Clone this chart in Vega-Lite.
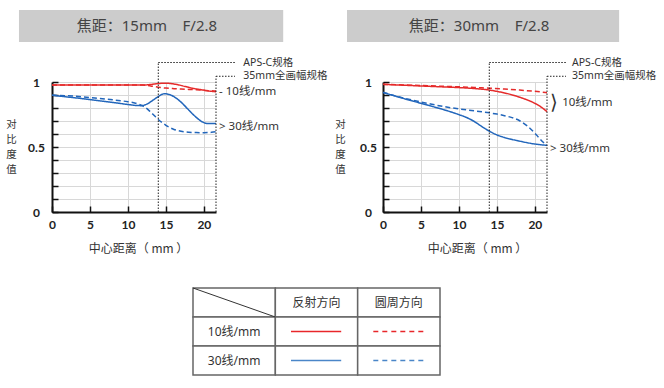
{
  "$schema": "https://vega.github.io/schema/vega-lite/v6.json",
  "padding": {"left": 5, "top": 9, "right": 0, "bottom": 0},
  "background": "white",
  "config": {
    "view": {"stroke": null},
    "font": "Noto Sans, Noto Sans CJK SC",
    "axis": {
      "domainColor": "#111", "domainWidth": 2, "grid": true,
      "tickColor": "#111", "tickWidth": 1.5, "tickSize": -6,
      "gridColor": "#d8d8d8", "gridWidth": 1,
      "labelFont": "Lato", "labelFontWeight": "bold", "labelFontSize": 12, "labelColor": "#222",
      "labelOverlap": false, "labelFlush": false,
      "titleFont": "Noto Sans CJK SC", "titleFontWeight": "normal", "titleFontSize": 12, "titleColor": "#333"
    },
    "text": {"font": "Noto Sans, Noto Sans CJK SC"}
  },
  "resolve": {"scale": {"color": "independent", "strokeDash": "independent"}},
  "datasets": {
    "mtf15": [
      {"d":0,"mtf":0.977,"freq":"10线/mm","dir":"反射方向"},
      {"d":4,"mtf":0.977,"freq":"10线/mm","dir":"反射方向"},
      {"d":8,"mtf":0.977,"freq":"10线/mm","dir":"反射方向"},
      {"d":12,"mtf":0.977,"freq":"10线/mm","dir":"反射方向"},
      {"d":13,"mtf":0.981,"freq":"10线/mm","dir":"反射方向"},
      {"d":14,"mtf":0.988,"freq":"10线/mm","dir":"反射方向"},
      {"d":14.8,"mtf":0.991,"freq":"10线/mm","dir":"反射方向"},
      {"d":15.5,"mtf":0.989,"freq":"10线/mm","dir":"反射方向"},
      {"d":16.5,"mtf":0.98,"freq":"10线/mm","dir":"反射方向"},
      {"d":17.5,"mtf":0.966,"freq":"10线/mm","dir":"反射方向"},
      {"d":18.5,"mtf":0.952,"freq":"10线/mm","dir":"反射方向"},
      {"d":19.5,"mtf":0.942,"freq":"10线/mm","dir":"反射方向"},
      {"d":20.5,"mtf":0.932,"freq":"10线/mm","dir":"反射方向"},
      {"d":21.6,"mtf":0.925,"freq":"10线/mm","dir":"反射方向"},
      {"d":0,"mtf":0.977,"freq":"10线/mm","dir":"圆周方向"},
      {"d":4,"mtf":0.977,"freq":"10线/mm","dir":"圆周方向"},
      {"d":8,"mtf":0.977,"freq":"10线/mm","dir":"圆周方向"},
      {"d":12,"mtf":0.976,"freq":"10线/mm","dir":"圆周方向"},
      {"d":13,"mtf":0.97,"freq":"10线/mm","dir":"圆周方向"},
      {"d":14,"mtf":0.96,"freq":"10线/mm","dir":"圆周方向"},
      {"d":15,"mtf":0.953,"freq":"10线/mm","dir":"圆周方向"},
      {"d":16,"mtf":0.949,"freq":"10线/mm","dir":"圆周方向"},
      {"d":17,"mtf":0.946,"freq":"10线/mm","dir":"圆周方向"},
      {"d":18,"mtf":0.943,"freq":"10线/mm","dir":"圆周方向"},
      {"d":19,"mtf":0.94,"freq":"10线/mm","dir":"圆周方向"},
      {"d":20,"mtf":0.936,"freq":"10线/mm","dir":"圆周方向"},
      {"d":21,"mtf":0.932,"freq":"10线/mm","dir":"圆周方向"},
      {"d":21.6,"mtf":0.93,"freq":"10线/mm","dir":"圆周方向"},
      {"d":0,"mtf":0.898,"freq":"30线/mm","dir":"反射方向"},
      {"d":2,"mtf":0.885,"freq":"30线/mm","dir":"反射方向"},
      {"d":4,"mtf":0.872,"freq":"30线/mm","dir":"反射方向"},
      {"d":6,"mtf":0.857,"freq":"30线/mm","dir":"反射方向"},
      {"d":8,"mtf":0.843,"freq":"30线/mm","dir":"反射方向"},
      {"d":10,"mtf":0.827,"freq":"30线/mm","dir":"反射方向"},
      {"d":11,"mtf":0.82,"freq":"30线/mm","dir":"反射方向"},
      {"d":11.8,"mtf":0.818,"freq":"30线/mm","dir":"反射方向"},
      {"d":12.5,"mtf":0.83,"freq":"30线/mm","dir":"反射方向"},
      {"d":13.3,"mtf":0.86,"freq":"30线/mm","dir":"反射方向"},
      {"d":14,"mtf":0.888,"freq":"30线/mm","dir":"反射方向"},
      {"d":14.8,"mtf":0.91,"freq":"30线/mm","dir":"反射方向"},
      {"d":15.5,"mtf":0.903,"freq":"30线/mm","dir":"反射方向"},
      {"d":16.2,"mtf":0.882,"freq":"30线/mm","dir":"反射方向"},
      {"d":17,"mtf":0.845,"freq":"30线/mm","dir":"反射方向"},
      {"d":18,"mtf":0.785,"freq":"30线/mm","dir":"反射方向"},
      {"d":19,"mtf":0.728,"freq":"30线/mm","dir":"反射方向"},
      {"d":19.8,"mtf":0.693,"freq":"30线/mm","dir":"反射方向"},
      {"d":20.5,"mtf":0.681,"freq":"30线/mm","dir":"反射方向"},
      {"d":21.6,"mtf":0.68,"freq":"30线/mm","dir":"反射方向"},
      {"d":0,"mtf":0.898,"freq":"30线/mm","dir":"圆周方向"},
      {"d":2,"mtf":0.894,"freq":"30线/mm","dir":"圆周方向"},
      {"d":4,"mtf":0.886,"freq":"30线/mm","dir":"圆周方向"},
      {"d":6,"mtf":0.875,"freq":"30线/mm","dir":"圆周方向"},
      {"d":8,"mtf":0.863,"freq":"30线/mm","dir":"圆周方向"},
      {"d":10,"mtf":0.848,"freq":"30线/mm","dir":"圆周方向"},
      {"d":11,"mtf":0.837,"freq":"30线/mm","dir":"圆周方向"},
      {"d":12,"mtf":0.815,"freq":"30线/mm","dir":"圆周方向"},
      {"d":12.5,"mtf":0.795,"freq":"30线/mm","dir":"圆周方向"},
      {"d":13,"mtf":0.768,"freq":"30线/mm","dir":"圆周方向"},
      {"d":13.5,"mtf":0.74,"freq":"30线/mm","dir":"圆周方向"},
      {"d":14,"mtf":0.712,"freq":"30线/mm","dir":"圆周方向"},
      {"d":14.5,"mtf":0.688,"freq":"30线/mm","dir":"圆周方向"},
      {"d":15,"mtf":0.667,"freq":"30线/mm","dir":"圆周方向"},
      {"d":16,"mtf":0.637,"freq":"30线/mm","dir":"圆周方向"},
      {"d":17,"mtf":0.621,"freq":"30线/mm","dir":"圆周方向"},
      {"d":18,"mtf":0.614,"freq":"30线/mm","dir":"圆周方向"},
      {"d":19,"mtf":0.611,"freq":"30线/mm","dir":"圆周方向"},
      {"d":20,"mtf":0.61,"freq":"30线/mm","dir":"圆周方向"},
      {"d":21,"mtf":0.613,"freq":"30线/mm","dir":"圆周方向"},
      {"d":21.6,"mtf":0.617,"freq":"30线/mm","dir":"圆周方向"}
    ],
    "mtf30": [
      {"d":0,"mtf":0.982,"freq":"10线/mm","dir":"反射方向"},
      {"d":2,"mtf":0.977,"freq":"10线/mm","dir":"反射方向"},
      {"d":4,"mtf":0.972,"freq":"10线/mm","dir":"反射方向"},
      {"d":6,"mtf":0.967,"freq":"10线/mm","dir":"反射方向"},
      {"d":8,"mtf":0.962,"freq":"10线/mm","dir":"反射方向"},
      {"d":10,"mtf":0.957,"freq":"10线/mm","dir":"反射方向"},
      {"d":12,"mtf":0.95,"freq":"10线/mm","dir":"反射方向"},
      {"d":13,"mtf":0.945,"freq":"10线/mm","dir":"反射方向"},
      {"d":14,"mtf":0.938,"freq":"10线/mm","dir":"反射方向"},
      {"d":15,"mtf":0.928,"freq":"10线/mm","dir":"反射方向"},
      {"d":16,"mtf":0.916,"freq":"10线/mm","dir":"反射方向"},
      {"d":17,"mtf":0.901,"freq":"10线/mm","dir":"反射方向"},
      {"d":18,"mtf":0.883,"freq":"10线/mm","dir":"反射方向"},
      {"d":19,"mtf":0.862,"freq":"10线/mm","dir":"反射方向"},
      {"d":20,"mtf":0.836,"freq":"10线/mm","dir":"反射方向"},
      {"d":21,"mtf":0.8,"freq":"10线/mm","dir":"反射方向"},
      {"d":21.6,"mtf":0.772,"freq":"10线/mm","dir":"反射方向"},
      {"d":0,"mtf":0.982,"freq":"10线/mm","dir":"圆周方向"},
      {"d":2,"mtf":0.979,"freq":"10线/mm","dir":"圆周方向"},
      {"d":4,"mtf":0.975,"freq":"10线/mm","dir":"圆周方向"},
      {"d":6,"mtf":0.971,"freq":"10线/mm","dir":"圆周方向"},
      {"d":8,"mtf":0.967,"freq":"10线/mm","dir":"圆周方向"},
      {"d":10,"mtf":0.963,"freq":"10线/mm","dir":"圆周方向"},
      {"d":12,"mtf":0.958,"freq":"10线/mm","dir":"圆周方向"},
      {"d":14,"mtf":0.952,"freq":"10线/mm","dir":"圆周方向"},
      {"d":16,"mtf":0.946,"freq":"10线/mm","dir":"圆周方向"},
      {"d":18,"mtf":0.938,"freq":"10线/mm","dir":"圆周方向"},
      {"d":20,"mtf":0.928,"freq":"10线/mm","dir":"圆周方向"},
      {"d":21.6,"mtf":0.918,"freq":"10线/mm","dir":"圆周方向"},
      {"d":0,"mtf":0.92,"freq":"30线/mm","dir":"反射方向"},
      {"d":2,"mtf":0.885,"freq":"30线/mm","dir":"反射方向"},
      {"d":4,"mtf":0.852,"freq":"30线/mm","dir":"反射方向"},
      {"d":6,"mtf":0.82,"freq":"30线/mm","dir":"反射方向"},
      {"d":8,"mtf":0.787,"freq":"30线/mm","dir":"反射方向"},
      {"d":10,"mtf":0.749,"freq":"30线/mm","dir":"反射方向"},
      {"d":11,"mtf":0.727,"freq":"30线/mm","dir":"反射方向"},
      {"d":12,"mtf":0.697,"freq":"30线/mm","dir":"反射方向"},
      {"d":13,"mtf":0.658,"freq":"30线/mm","dir":"反射方向"},
      {"d":14,"mtf":0.622,"freq":"30线/mm","dir":"反射方向"},
      {"d":15,"mtf":0.593,"freq":"30线/mm","dir":"反射方向"},
      {"d":16,"mtf":0.573,"freq":"30线/mm","dir":"反射方向"},
      {"d":17,"mtf":0.558,"freq":"30线/mm","dir":"反射方向"},
      {"d":18,"mtf":0.545,"freq":"30线/mm","dir":"反射方向"},
      {"d":19,"mtf":0.533,"freq":"30线/mm","dir":"反射方向"},
      {"d":20,"mtf":0.523,"freq":"30线/mm","dir":"反射方向"},
      {"d":21,"mtf":0.516,"freq":"30线/mm","dir":"反射方向"},
      {"d":21.6,"mtf":0.513,"freq":"30线/mm","dir":"反射方向"},
      {"d":0,"mtf":0.92,"freq":"30线/mm","dir":"圆周方向"},
      {"d":2,"mtf":0.887,"freq":"30线/mm","dir":"圆周方向"},
      {"d":4,"mtf":0.859,"freq":"30线/mm","dir":"圆周方向"},
      {"d":6,"mtf":0.834,"freq":"30线/mm","dir":"圆周方向"},
      {"d":8,"mtf":0.811,"freq":"30线/mm","dir":"圆周方向"},
      {"d":10,"mtf":0.793,"freq":"30线/mm","dir":"圆周方向"},
      {"d":12,"mtf":0.778,"freq":"30线/mm","dir":"圆周方向"},
      {"d":14,"mtf":0.763,"freq":"30线/mm","dir":"圆周方向"},
      {"d":15,"mtf":0.753,"freq":"30线/mm","dir":"圆周方向"},
      {"d":16,"mtf":0.741,"freq":"30线/mm","dir":"圆周方向"},
      {"d":17,"mtf":0.726,"freq":"30线/mm","dir":"圆周方向"},
      {"d":18,"mtf":0.702,"freq":"30线/mm","dir":"圆周方向"},
      {"d":19,"mtf":0.662,"freq":"30线/mm","dir":"圆周方向"},
      {"d":20,"mtf":0.607,"freq":"30线/mm","dir":"圆周方向"},
      {"d":20.5,"mtf":0.574,"freq":"30线/mm","dir":"圆周方向"},
      {"d":21,"mtf":0.542,"freq":"30线/mm","dir":"圆周方向"},
      {"d":21.6,"mtf":0.51,"freq":"30线/mm","dir":"圆周方向"}
    ],
    "legendTable": [
      {"row":"header","col":"label","text":""},
      {"row":"header","col":"反射方向","text":"反射方向"},
      {"row":"header","col":"圆周方向","text":"圆周方向"},
      {"row":"10线/mm","col":"label","text":"10线/mm"},
      {"row":"10线/mm","col":"反射方向","text":""},
      {"row":"10线/mm","col":"圆周方向","text":""},
      {"row":"30线/mm","col":"label","text":"30线/mm"},
      {"row":"30线/mm","col":"反射方向","text":""},
      {"row":"30线/mm","col":"圆周方向","text":""}
    ]
  },
  "spacing": 33,
  "vconcat": [
    {
      "spacing": 6,
      "hconcat": [
        {
          "width": 164, "height": 130,
          "resolve": {"axis": {"x": "independent", "y": "independent"}},
          "layer": [
            {"data": {"name": "mtf15"},
             "mark": {"type": "line", "interpolate": "monotone", "strokeWidth": 1.5},
             "encoding": {
               "x": {"field": "d", "type": "quantitative", "scale": {"domain": [0, 21.6], "nice": false},
                     "axis": {"values": [0, 5, 10, 15, 20], "grid": true, "title": "中心距离（ mm ）", "titleX": 86, "titleY": 36, "titleBaseline": "middle", "titleAlign": "center", "labelPadding": 13}},
               "y": {"field": "mtf", "type": "quantitative", "scale": {"domain": [0, 1], "nice": false},
                     "axis": {"values": [0, 0.1, 0.2, 0.3, 0.4, 0.5, 0.6, 0.7, 0.8, 0.9, 1], "grid": true,
                              "labelExpr": "abs(datum.value - 1) < 0.001 ? '1' : abs(datum.value - 0.5) < 0.001 ? '0.5' : abs(datum.value) < 0.001 ? '0' : ''",
                              "labelAlign": "center", "labelBaseline": "middle", "labelPadding": 22,
                              "title": ["对", "比", "度", "值"], "titleAngle": 0, "titleX": -41, "titleY": 42, "titleAlign": "center", "titleBaseline": "middle", "titleFontSize": 10.5, "titleLineHeight": 15.3}},
               "color": {"field": "freq", "type": "nominal", "scale": {"domain": ["10线/mm", "30线/mm"], "range": ["#e52b2b", "#2266bb"]}, "legend": null},
               "strokeDash": {"field": "dir", "type": "nominal", "scale": {"domain": ["反射方向", "圆周方向"], "range": [[1, 0], [5, 3]]}, "legend": null}
             }},
            {"data": {"values": [{"t": "焦距：15mm\u00a0\u00a0\u00a0\u00a0F/2.8"}]},
             "mark": {"type": "rect", "fill": "#cccccc"},
             "encoding": {"x": {"datum": -4.35, "axis": null}, "x2": {"datum": 30.45}, "y": {"datum": 1.308, "axis": null}, "y2": {"datum": 1.554}}},
            {"data": {"values": [{"t": "焦距：15mm\u00a0\u00a0\u00a0\u00a0F/2.8"}]},
             "mark": {"type": "text", "fontSize": 15, "color": "#444", "align": "center", "baseline": "middle"},
             "encoding": {"x": {"datum": 12.5, "axis": null}, "y": {"datum": 1.431, "axis": null}, "text": {"field": "t"}}},
            {"data": {"values": [{"fmt": "APS-C规格", "edge": 14}]},
             "mark": {"type": "rule", "stroke": "#222", "strokeWidth": 1, "strokeDash": [1.5, 1.5]},
             "encoding": {"x": {"field": "edge", "type": "quantitative", "axis": null}, "y": {"datum": 0, "axis": null}, "y2": {"datum": 1.15}}},
            {"data": {"values": [{"fmt": "APS-C规格", "edge": 14}]},
             "mark": {"type": "rule", "stroke": "#222", "strokeWidth": 1, "strokeDash": [1.5, 1.5]},
             "encoding": {"x": {"field": "edge", "type": "quantitative", "axis": null}, "x2": {"datum": 24.1}, "y": {"datum": 1.15, "axis": null}}},
            {"data": {"values": [{"fmt": "APS-C规格", "edge": 14}]},
             "mark": {"type": "text", "fontSize": 10.5, "color": "#333", "align": "left", "baseline": "middle"},
             "encoding": {"x": {"datum": 25.2, "axis": null}, "y": {"datum": 1.15, "axis": null}, "text": {"field": "fmt"}}},
            {"data": {"values": [{"fmt": "35mm全画幅规格", "edge": 21.6}]},
             "mark": {"type": "rule", "stroke": "#222", "strokeWidth": 1, "strokeDash": [1.5, 1.5]},
             "encoding": {"x": {"field": "edge", "type": "quantitative", "axis": null}, "y": {"datum": 0, "axis": null}, "y2": {"datum": 1.044}}},
            {"data": {"values": [{"fmt": "35mm全画幅规格", "edge": 21.6}]},
             "mark": {"type": "rule", "stroke": "#222", "strokeWidth": 1, "strokeDash": [1.5, 1.5]},
             "encoding": {"x": {"field": "edge", "type": "quantitative", "axis": null}, "x2": {"datum": 24.1}, "y": {"datum": 1.044, "axis": null}}},
            {"data": {"values": [{"fmt": "35mm全画幅规格", "edge": 21.6}]},
             "mark": {"type": "text", "fontSize": 10.5, "color": "#333", "align": "left", "baseline": "middle"},
             "encoding": {"x": {"datum": 25.2, "axis": null}, "y": {"datum": 1.044, "axis": null}, "text": {"field": "fmt"}}},
            {"data": {"values": [{"lab": "- 10线/mm"}]},
             "mark": {"type": "text", "fontSize": 11.5, "color": "#333", "align": "left", "baseline": "middle"},
             "encoding": {"x": {"datum": 22.0, "axis": null}, "y": {"datum": 0.925, "axis": null}, "text": {"field": "lab"}}},
            {"data": {"values": [{"lab": "> 30线/mm"}]},
             "mark": {"type": "text", "fontSize": 11.5, "color": "#333", "align": "left", "baseline": "middle"},
             "encoding": {"x": {"datum": 22.0, "axis": null}, "y": {"datum": 0.654, "axis": null}, "text": {"field": "lab"}}}
          ]
        },
        {
          "width": 164, "height": 130,
          "resolve": {"axis": {"x": "independent", "y": "independent"}},
          "layer": [
            {"data": {"name": "mtf30"},
             "mark": {"type": "line", "interpolate": "monotone", "strokeWidth": 1.5},
             "encoding": {
               "x": {"field": "d", "type": "quantitative", "scale": {"domain": [0, 21.6], "nice": false},
                     "axis": {"values": [0, 5, 10, 15, 20], "grid": true, "title": "中心距离（ mm ）", "titleX": 94, "titleY": 36, "titleBaseline": "middle", "titleAlign": "center", "labelPadding": 13}},
               "y": {"field": "mtf", "type": "quantitative", "scale": {"domain": [0, 1], "nice": false},
                     "axis": {"values": [0, 0.1, 0.2, 0.3, 0.4, 0.5, 0.6, 0.7, 0.8, 0.9, 1], "grid": true,
                              "labelExpr": "abs(datum.value - 1) < 0.001 ? '1' : abs(datum.value - 0.5) < 0.001 ? '0.5' : abs(datum.value) < 0.001 ? '0' : ''",
                              "labelAlign": "center", "labelBaseline": "middle", "labelPadding": 21,
                              "title": ["对", "比", "度", "值"], "titleAngle": 0, "titleX": -43, "titleY": 42, "titleAlign": "center", "titleBaseline": "middle", "titleFontSize": 10.5, "titleLineHeight": 15.3}},
               "color": {"field": "freq", "type": "nominal", "scale": {"domain": ["10线/mm", "30线/mm"], "range": ["#e52b2b", "#2266bb"]}, "legend": null},
               "strokeDash": {"field": "dir", "type": "nominal", "scale": {"domain": ["反射方向", "圆周方向"], "range": [[1, 0], [5, 3]]}, "legend": null}
             }},
            {"data": {"values": [{"t": "焦距：30mm\u00a0\u00a0\u00a0\u00a0F/2.8"}]},
             "mark": {"type": "rect", "fill": "#cccccc"},
             "encoding": {"x": {"datum": -4.74, "axis": null}, "x2": {"datum": 31.1}, "y": {"datum": 1.308, "axis": null}, "y2": {"datum": 1.554}}},
            {"data": {"values": [{"t": "焦距：30mm\u00a0\u00a0\u00a0\u00a0F/2.8"}]},
             "mark": {"type": "text", "fontSize": 15, "color": "#444", "align": "center", "baseline": "middle"},
             "encoding": {"x": {"datum": 12.65, "axis": null}, "y": {"datum": 1.431, "axis": null}, "text": {"field": "t"}}},
            {"data": {"values": [{"fmt": "APS-C规格", "edge": 14}]},
             "mark": {"type": "rule", "stroke": "#222", "strokeWidth": 1, "strokeDash": [1.5, 1.5]},
             "encoding": {"x": {"field": "edge", "type": "quantitative", "axis": null}, "y": {"datum": 0, "axis": null}, "y2": {"datum": 1.15}}},
            {"data": {"values": [{"fmt": "APS-C规格", "edge": 14}]},
             "mark": {"type": "rule", "stroke": "#222", "strokeWidth": 1, "strokeDash": [1.5, 1.5]},
             "encoding": {"x": {"field": "edge", "type": "quantitative", "axis": null}, "x2": {"datum": 24.1}, "y": {"datum": 1.15, "axis": null}}},
            {"data": {"values": [{"fmt": "APS-C规格", "edge": 14}]},
             "mark": {"type": "text", "fontSize": 10.5, "color": "#333", "align": "left", "baseline": "middle"},
             "encoding": {"x": {"datum": 24.9, "axis": null}, "y": {"datum": 1.15, "axis": null}, "text": {"field": "fmt"}}},
            {"data": {"values": [{"fmt": "35mm全画幅规格", "edge": 21.6}]},
             "mark": {"type": "rule", "stroke": "#222", "strokeWidth": 1, "strokeDash": [1.5, 1.5]},
             "encoding": {"x": {"field": "edge", "type": "quantitative", "axis": null}, "y": {"datum": 0, "axis": null}, "y2": {"datum": 1.044}}},
            {"data": {"values": [{"fmt": "35mm全画幅规格", "edge": 21.6}]},
             "mark": {"type": "rule", "stroke": "#222", "strokeWidth": 1, "strokeDash": [1.5, 1.5]},
             "encoding": {"x": {"field": "edge", "type": "quantitative", "axis": null}, "x2": {"datum": 24.1}, "y": {"datum": 1.044, "axis": null}}},
            {"data": {"values": [{"fmt": "35mm全画幅规格", "edge": 21.6}]},
             "mark": {"type": "text", "fontSize": 10.5, "color": "#333", "align": "left", "baseline": "middle"},
             "encoding": {"x": {"datum": 24.9, "axis": null}, "y": {"datum": 1.044, "axis": null}, "text": {"field": "fmt"}}},
            {"data": {"values": [{"lab": "⟩"}]},
             "mark": {"type": "text", "fontSize": 20, "color": "#333", "align": "left", "baseline": "middle", "font": "DejaVu Sans", "fontWeight": 300},
             "encoding": {"x": {"datum": 22.0, "axis": null}, "y": {"datum": 0.835, "axis": null}, "text": {"field": "lab"}}},
            {"data": {"values": [{"lab": "10线/mm"}]},
             "mark": {"type": "text", "fontSize": 11.5, "color": "#333", "align": "left", "baseline": "middle"},
             "encoding": {"x": {"datum": 23.6, "axis": null}, "y": {"datum": 0.841, "axis": null}, "text": {"field": "lab"}}},
            {"data": {"values": [{"lab": "> 30线/mm"}]},
             "mark": {"type": "text", "fontSize": 11.5, "color": "#333", "align": "left", "baseline": "middle"},
             "encoding": {"x": {"datum": 22.0, "axis": null}, "y": {"datum": 0.487, "axis": null}, "text": {"field": "lab"}}}
          ]
        }
      ]
    },
    {
      "width": 400, "height": 87,
      "data": {"name": "legendTable"},
      "encoding": {
        "x": {"field": "col", "type": "nominal", "scale": {"domain": ["label", "反射方向", "圆周方向"], "paddingInner": 0, "paddingOuter": 0, "range": [141, 388]}, "axis": null},
        "y": {"field": "row", "type": "nominal", "scale": {"domain": ["header", "10线/mm", "30线/mm"], "paddingInner": 0, "paddingOuter": 0}, "axis": null}
      },
      "layer": [
        {"mark": {"type": "rect", "fill": "white", "stroke": "#666", "strokeWidth": 1.5}},
        {"transform": [{"filter": "datum.row == 'header' && datum.col == 'label'"}],
         "mark": {"type": "rule", "stroke": "#333", "strokeWidth": 1},
         "encoding": {
           "x": {"field": "col", "type": "nominal", "bandPosition": 0},
           "x2": {"field": "col", "bandPosition": 1},
           "y": {"field": "row", "type": "nominal", "bandPosition": 0},
           "y2": {"field": "row", "bandPosition": 1}
         }},
        {"mark": {"type": "text", "fontSize": 12, "color": "#333", "align": "center", "baseline": "middle"},
         "encoding": {"text": {"field": "text"}}},
        {"transform": [{"filter": "datum.row != 'header' && datum.col != 'label'"}],
         "mark": {"type": "rule", "strokeWidth": 1.5},
         "encoding": {
           "x": {"field": "col", "type": "nominal", "bandPosition": 0.19},
           "x2": {"field": "col", "bandPosition": 0.8},
           "color": {"field": "row", "type": "nominal", "scale": {"domain": ["10线/mm", "30线/mm"], "range": ["#e8262a", "#4a86c8"]}, "legend": null},
           "strokeDash": {"field": "col", "type": "nominal", "scale": {"domain": ["反射方向", "圆周方向"], "range": [[1, 0], [5, 4]]}, "legend": null}
         }}
      ]
    }
  ]
}
